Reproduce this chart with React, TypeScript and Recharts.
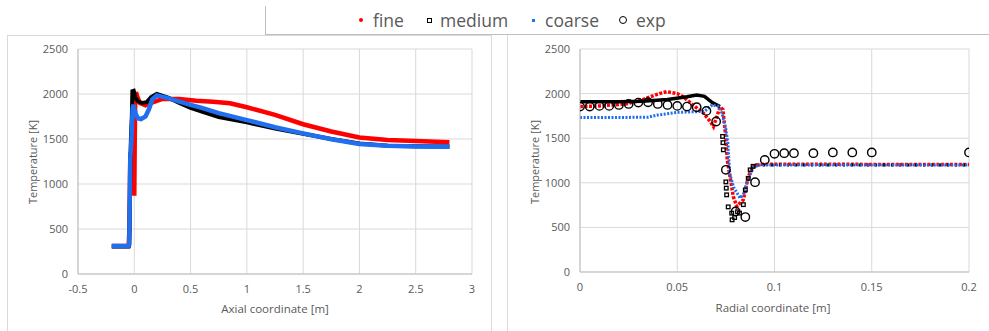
import { ComposedChart, Line, Scatter, XAxis, YAxis, CartesianGrid } from "recharts";

const FONT = '"Open Sans", sans-serif';
const TEXT = "#595959";
const GRID = "#d9d9d9";
const RED = "#ff0000";
const BLACK = "#000000";
const BLUE = "#1f6fef";

const axialTicks = [-0.5, 0, 0.5, 1, 1.5, 2, 2.5, 3];
const radialTicks = [0, 0.05, 0.1, 0.15, 0.2];
const tempTicks = [0, 500, 1000, 1500, 2000, 2500];

// axial profiles [x (m), T (K)]
const axialFine: [number, number][] = [
  [-0.2, 310], [-0.05, 310], [-0.045, 450], [-0.04, 900], [-0.035, 1350], [-0.03, 1000],
  [-0.025, 1500], [-0.02, 1200], [-0.015, 1700], [-0.01, 1150], [-0.005, 1600], [0, 870],
  [0.004, 1500], [0.008, 1880], [0.015, 2020], [0.03, 1960], [0.05, 1900], [0.1, 1875],
  [0.15, 1900], [0.25, 1945], [0.4, 1945], [0.55, 1925], [0.7, 1915], [0.85, 1897],
  [1.0, 1853], [1.25, 1768], [1.5, 1664], [1.75, 1583], [2.0, 1516], [2.25, 1490],
  [2.5, 1479], [2.8, 1464],
];
const axialMedium: [number, number][] = [
  [-0.2, 305], [-0.05, 305], [-0.045, 320], [-0.04, 700], [-0.035, 1150], [-0.03, 1500],
  [-0.022, 1750], [-0.017, 2030], [-0.005, 2035], [0.01, 1960], [0.03, 1920], [0.07, 1900],
  [0.11, 1910], [0.15, 1965], [0.2, 2000], [0.3, 1960], [0.4, 1900], [0.5, 1845],
  [0.6, 1805], [0.75, 1745], [1.0, 1685], [1.25, 1615], [1.5, 1558], [1.75, 1500],
  [2.0, 1450], [2.25, 1425], [2.5, 1420], [2.8, 1418],
];
const axialCoarse: [number, number][] = [
  [-0.2, 312], [-0.05, 312], [-0.045, 330], [-0.04, 900], [-0.035, 1300], [-0.025, 1500],
  [-0.015, 1840], [-0.008, 1880], [0.01, 1790], [0.03, 1730], [0.06, 1722], [0.1, 1750],
  [0.13, 1830], [0.16, 1940], [0.2, 1985], [0.3, 1955], [0.4, 1915], [0.5, 1880],
  [0.6, 1845], [0.75, 1788], [1.0, 1710], [1.25, 1630], [1.5, 1562], [1.75, 1497],
  [2.0, 1445], [2.25, 1425], [2.5, 1418], [2.8, 1415],
];

// radial profiles [r (m), T (K)]
const radialFine: [number, number][] = [
  [0, 1855], [0.01, 1862], [0.024, 1885], [0.032, 1930], [0.04, 1995], [0.0446, 2022],
  [0.05, 2000], [0.053, 1966], [0.058, 1873], [0.0634, 1783], [0.067, 1687], [0.0686, 1630],
  [0.072, 1850], [0.0735, 1820], [0.075, 1500], [0.0757, 1257], [0.0788, 847], [0.0806, 735],
  [0.084, 810], [0.0865, 1070], [0.089, 1180], [0.0926, 1208], [0.2, 1205],
];
const radialMediumTop: [number, number][] = [
  [0, 1910], [0.02, 1910], [0.032, 1915], [0.045, 1935], [0.055, 1965], [0.06, 1985],
  [0.064, 1970], [0.068, 1900], [0.072, 1855],
];
const radialMediumDrop: [number, number][] = [
  [0.0733, 1520], [0.0735, 1450], [0.0737, 1370], [0.075, 1010], [0.0752, 940], [0.0754, 865],
  [0.0762, 730], [0.078, 660], [0.0782, 585], [0.0795, 610], [0.081, 675], [0.082, 660],
  [0.084, 755], [0.085, 920], [0.0865, 1050], [0.0875, 1145], [0.089, 1185],
];
const radialMediumFlat: [number, number][] = [[0.09, 1200], [0.2, 1200]];
const radialCoarse: [number, number][] = [
  [0, 1732], [0.02, 1732], [0.035, 1736], [0.04, 1760], [0.05, 1790], [0.06, 1797],
  [0.064, 1800], [0.068, 1873], [0.071, 1860], [0.073, 1780], [0.075, 1600], [0.076, 1450],
  [0.077, 1100], [0.079, 950], [0.0823, 830], [0.084, 870], [0.0858, 1000], [0.089, 1170],
  [0.092, 1200], [0.2, 1200],
];
const radialExp: [number, number][] = [
  [0, 1854], [0.005, 1854], [0.01, 1862], [0.015, 1862], [0.02, 1873], [0.025, 1884],
  [0.03, 1899], [0.035, 1903], [0.04, 1884], [0.045, 1873], [0.05, 1862], [0.055, 1854],
  [0.06, 1847], [0.065, 1806], [0.07, 1687], [0.075, 1146], [0.08, 679], [0.085, 616],
  [0.09, 1007], [0.095, 1257], [0.1, 1325], [0.105, 1332], [0.11, 1332], [0.12, 1332],
  [0.13, 1340], [0.14, 1340], [0.15, 1340], [0.2, 1340],
];

const legendItems = ["fine", "medium", "coarse", "exp"];

const pts = (a: [number, number][]) => a.map(([x, y]) => ({ x, y }));

const tick = { fontSize: 11, fill: TEXT, fontFamily: FONT };

const OpenCircle = (p: any) => (
  <circle cx={p.cx} cy={p.cy} r={4.2} fill="none" stroke={BLACK} strokeWidth={1.4} />
);
const SmallSquare = (p: any) => (
  <rect x={p.cx - 1.8} y={p.cy - 1.8} width={3.6} height={3.6} fill="none" stroke={BLACK} strokeWidth={1.3} />
);

function AxialChart() {
  return (
    <ComposedChart width={490} height={331} margin={{ top: 49, right: 18, bottom: 27, left: 18 }}>
      <CartesianGrid stroke={GRID} />
      <XAxis
        type="number"
        dataKey="x"
        domain={[-0.5, 3]}
        ticks={axialTicks}
        tick={tick}
        height={30}
        tickLine={false}
        tickSize={8}
        tickMargin={3}
        axisLine={{ stroke: "#bfbfbf" }}
        allowDataOverflow
      />
      <YAxis
        type="number"
        dataKey="y"
        domain={[0, 2500]}
        ticks={tempTicks}
        tick={tick}
        width={60}
        tickLine={false}
        tickSize={8}
        tickMargin={2}
        axisLine={{ stroke: "#bfbfbf" }}
      />
      <Line data={pts(axialFine)} dataKey="y" stroke={RED} strokeWidth={4.5} dot={false} isAnimationActive={false} />
      <Line data={pts(axialMedium)} dataKey="y" stroke={BLACK} strokeWidth={4} dot={false} isAnimationActive={false} />
      <Line data={pts(axialCoarse)} dataKey="y" stroke={BLUE} strokeWidth={4.5} dot={false} isAnimationActive={false} />
    </ComposedChart>
  );
}

function RadialChart() {
  return (
    <ComposedChart width={482} height={331} margin={{ top: 49, right: 20, bottom: 29, left: 13 }}>
      <CartesianGrid stroke={GRID} />
      <XAxis
        type="number"
        dataKey="x"
        domain={[0, 0.2]}
        ticks={radialTicks}
        tick={tick}
        height={30}
        tickLine={false}
        tickSize={8}
        tickMargin={3}
        axisLine={{ stroke: "#bfbfbf" }}
        allowDataOverflow
      />
      <YAxis
        type="number"
        dataKey="y"
        domain={[0, 2500]}
        ticks={tempTicks}
        tick={tick}
        width={60}
        tickLine={false}
        tickSize={8}
        tickMargin={2}
        axisLine={{ stroke: "#bfbfbf" }}
      />
      <Line data={pts(radialFine)} dataKey="y" stroke={RED} strokeWidth={3.5} strokeDasharray="3 1.5" dot={false} isAnimationActive={false} />
      <Line data={pts(radialMediumTop)} dataKey="y" stroke={BLACK} strokeWidth={3.5} dot={false} isAnimationActive={false} />
      <Scatter data={pts(radialMediumDrop)} dataKey="y" shape={SmallSquare} isAnimationActive={false} />
      <Line data={pts(radialMediumFlat)} dataKey="y" stroke={BLACK} strokeWidth={3} strokeDasharray="2 6" dot={false} isAnimationActive={false} />
      <Line data={pts(radialCoarse)} dataKey="y" stroke={BLUE} strokeWidth={3} strokeDasharray="2 1.5" dot={false} isAnimationActive={false} />
      <Scatter data={pts(radialExp)} dataKey="y" shape={OpenCircle} isAnimationActive={false} />
    </ComposedChart>
  );
}

const abs = (s: React.CSSProperties): React.CSSProperties => ({ position: "absolute", ...s });

function Legend() {
  const lx = [361, 429, 533, 623];
  const tx = [373, 440, 545, 636];
  const markers = [
    <div style={abs({ left: -2, top: -2, width: 4, height: 4, borderRadius: 2, background: RED })} />,
    <div style={abs({ left: -2.5, top: -2.5, width: 3, height: 3, border: "1px solid #000" })} />,
    <div style={abs({ left: -1.5, top: -1.5, width: 3, height: 3, background: BLUE })} />,
    <div style={abs({ left: -4.5, top: -4.5, width: 6.4, height: 6.4, borderRadius: "50%", border: "1.3px solid #000" })} />,
  ];
  return (
    <>
      {legendItems.map((name, i) => (
        <div key={name}>
          <div style={abs({ left: lx[i], top: 20 })}>{markers[i]}</div>
          <div style={abs({ left: tx[i], top: 7, lineHeight: "26px", fontSize: 17.5, color: TEXT, fontFamily: FONT })}>{name}</div>
        </div>
      ))}
    </>
  );
}

const title = (text: string, cx: number, cy: number, size: number, rotate = false) => (
  <div
    style={abs({
      left: cx - 100,
      top: cy - 10,
      width: 200,
      height: 20,
      lineHeight: "20px",
      textAlign: "center",
      fontSize: size,
      fontFamily: FONT,
      color: TEXT,
      whiteSpace: "nowrap",
      transform: rotate ? "rotate(-90deg)" : undefined,
    })}
  >
    {text}
  </div>
);

export default function App() {
  return (
    <div style={abs({ left: 0, top: 0, width: 989, height: 331, background: "#fff", overflow: "hidden" })}>
      {/* chart frames */}
      <div style={abs({ left: 7, top: 35, width: 483, height: 320, borderLeft: "1px solid #d9d9d9", borderTop: "1px solid #d9d9d9", borderRight: "1px solid #d9d9d9" })} />
      <div style={abs({ left: 507, top: 34, width: 500, height: 320, borderLeft: "1px solid #d9d9d9" })} />
      <div style={abs({ left: 265, top: 6, width: 740, height: 28, borderLeft: "1px solid #bfbfbf", borderBottom: "1px solid #bfbfbf", background: "#fff" })} />
      <div style={abs({ left: 0, top: 0 })}>
        <AxialChart />
      </div>
      <div style={abs({ left: 507, top: 0 })}>
        <RadialChart />
      </div>
      <Legend />
      {title("Temperature [K]", 33, 162, 11, true)}
      {title("Axial coordinate [m]", 275, 309, 11.5)}
      {title("Temperature [K]", 535, 162, 11, true)}
      {title("Radial coordinate [m]", 773, 308, 11.5)}
    </div>
  );
}
